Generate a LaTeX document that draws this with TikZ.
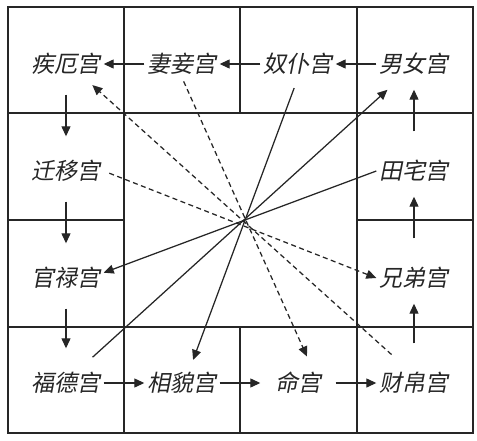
\documentclass[tikz,border=0pt]{standalone}
\usepackage{fontspec}
\newfontfamily\palfont[FakeSlant=0.2]{Noto Sans CJK SC}
\usetikzlibrary{arrows.meta}

\begin{document}
\begin{tikzpicture}[x=1pt, y=-1pt]

% TikZ styles
\tikzset{
  palace/.style={rectangle, inner sep=2pt, minimum width=75pt, minimum height=27pt, font=\palfont\fontsize{23pt}{27pt}\selectfont, text=black!85},
  cell/.style={draw=black!85, line width=1.7pt},
  arrow/.style={-{Triangle[length=10pt, width=9pt]}, line width=1.25pt, black!85},
  dasharrow/.style={arrow, dash pattern=on 5pt off 3.5pt},
  down/.style={arrow, shorten <=17pt, shorten >=21pt},
  up/.style={arrow, shorten <=26pt, shorten >=12pt}
};

\useasboundingbox (0,0) rectangle (477,440);
\fill[white] (0,0) rectangle (477,440);

% --- Raster ---
\draw[cell] (8,7) rectangle (473,433);
\draw[cell] (124,7) -- (124,433);
\draw[cell] (357,7) -- (357,433);
\draw[cell] (8,113) -- (473,113);
\draw[cell] (8,327) -- (473,327);
\draw[cell] (240,7) -- (240,113);
\draw[cell] (240,327) -- (240,433);
\draw[cell] (8,220) -- (124,220);
\draw[cell] (357,220) -- (473,220);

% --- Palaeste ---
\node[palace] (jie)      at (66,64)   {疾厄宫};
\node[palace] (qiqie)    at (182,64)  {妻妾宫};
\node[palace] (nupu)     at (298,64)  {奴仆宫};
\node[palace] (nannv)    at (414,64)  {男女宫};
\node[palace] (qianyi)   at (66,171)  {迁移宫};
\node[palace] (tianzhai) at (414,171) {田宅宫};
\node[palace] (guanlu)   at (66,278)  {官禄宫};
\node[palace] (xiongdi)  at (414,278) {兄弟宫};
\node[palace] (fude)     at (66,383)  {福德宫};
\node[palace] (xiangmao) at (182,383) {相貌宫};
\node[palace] (ming)     at (298,383) {命宫};
\node[palace] (caibo)    at (414,383) {财帛宫};

% --- Pfeile aussen ---
\draw[arrow] (qiqie.west) -- (jie.east);
\draw[arrow] (nupu.west) -- (qiqie.east);
\draw[arrow] (nannv.west) -- (nupu.east);
\draw[arrow] (fude.east) -- (xiangmao.west);
\draw[arrow] (xiangmao.east) -- (ming.west);
\draw[arrow] (ming.east) -- (caibo.west);

\draw[down] (jie.south) -- (qianyi.north);
\draw[down] (qianyi.south) -- (guanlu.north);
\draw[down] (guanlu.south) -- (fude.north);
\draw[up] (caibo.north) -- (xiongdi.south);
\draw[up] (xiongdi.north) -- (tianzhai.south);
\draw[up] (tianzhai.north) -- (nannv.south);

% --- Pfeile durch die Mitte ---
\draw[arrow, shorten <=11pt, shorten >=10pt] (nupu.south) -- (xiangmao.61);
\draw[arrow] (tianzhai.west) -- (guanlu.8);
\draw[arrow, shorten <=18pt, shorten >=18pt] (fude.46) -- (nannv.226);
\draw[dasharrow, shorten <=4pt, shorten >=14pt] (qiqie.south) -- (ming.43);
\draw[dasharrow, shorten <=22pt, shorten >=11pt] (caibo.114) -- (jie.-37);
\draw[dasharrow, shorten <=6pt] (qianyi.east) -- (xiongdi.west);
\end{tikzpicture}
\end{document}
